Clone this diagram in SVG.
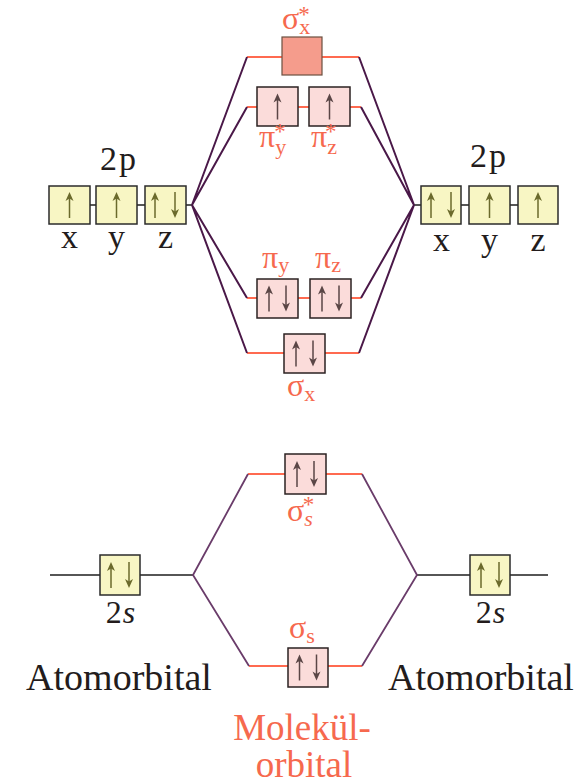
<svg xmlns="http://www.w3.org/2000/svg" width="584" height="784" viewBox="0 0 584 784">
  <style>
    .ao { fill: #f8f6c4; stroke: #2b2b2b; stroke-width: 1.5; }
    .mo { fill: #fbdcda; stroke: #2b2222; stroke-width: 1.5; }
    .mo-empty { fill: #f59c8c; stroke: #6b5040; stroke-width: 1.2; }
    .lvl { stroke: #ff6a50; stroke-width: 2; fill: none; }
    .ln { stroke: #1e1e1e; stroke-width: 1.6; fill: none; }
    .mix { stroke: #4a1848; stroke-width: 2; fill: none; }
    .mix2 { stroke: #6a3c6a; stroke-width: 1.8; fill: none; }
    .t { font-family: "Liberation Serif", "DejaVu Serif", serif; }
    .dark { fill: #231c1c; }
    .red { fill: #f6694e; }
    .spin-ao { fill: #6b6a2c; stroke: #6b6a2c; }
    .spin-mo { fill: #5a4646; stroke: #5a4646; }
    .big { font-size: 38px; text-anchor: middle; }
    .axis { font-size: 34px; text-anchor: middle; }
    .greek { font-size: 32px; }
    .sub { font-size: 22px; }
    .star { font-size: 23px; }
  </style>

  <defs>
    <!-- electron spin arrows, centred on the origin -->
    <g id="up">
      <line x1="0" y1="-7" x2="0" y2="13" stroke-width="1.5"/>
      <path d="M0,-13 L-4,-4 L0,-6.5 L4,-4 Z" stroke="none"/>
    </g>
    <g id="down">
      <line x1="0" y1="7" x2="0" y2="-13" stroke-width="1.5"/>
      <path d="M0,13 L-4,4 L0,6.5 L4,4 Z" stroke="none"/>
    </g>
  </defs>

  <!-- connectors: levels, correlation lines -->
  <g id="connectors">
    <!-- 2p atom levels -->
    <line class="ln" x1="49" y1="205" x2="192" y2="205"/>
    <line class="ln" x1="414" y1="205" x2="558" y2="205"/>
    <!-- 2s atom levels -->
    <line class="ln" x1="50" y1="575" x2="193" y2="575"/>
    <line class="ln" x1="417" y1="575" x2="548" y2="575"/>

    <!-- p molecular levels -->
    <line class="lvl" x1="247" y1="57" x2="359" y2="57"/>
    <line class="lvl" x1="247" y1="107" x2="361" y2="107"/>
    <line class="lvl" x1="247" y1="298" x2="361" y2="298"/>
    <line class="lvl" x1="247" y1="353" x2="359" y2="353"/>
    <!-- s molecular levels -->
    <line class="lvl" x1="248" y1="474" x2="362" y2="474"/>
    <line class="lvl" x1="249" y1="666" x2="362" y2="666"/>

    <!-- 2p correlation lines -->
    <polyline class="mix" points="247,57 192,205 247,107"/>
    <polyline class="mix" points="247,298 192,205 247,353"/>
    <polyline class="mix" points="359,57 414,205 361,107"/>
    <polyline class="mix" points="361,298 414,205 359,353"/>
    <!-- 2s correlation lines -->
    <polyline class="mix2" points="248,474 193,575 249,666"/>
    <polyline class="mix2" points="362,474 417,575 362,666"/>
  </g>

  <!-- left 2p atomic orbitals -->
  <g id="ao-2p-left">
    <text class="t dark" x="100" y="170" font-size="34" letter-spacing="2">2p</text>
    <rect class="ao" x="49" y="186" width="41" height="38"/>
    <rect class="ao" x="96" y="186" width="41" height="38"/>
    <rect class="ao" x="145" y="186" width="41" height="38"/>
    <g class="spin-ao">
      <use href="#up" x="69.5" y="205"/>
      <use href="#up" x="116.5" y="205"/>
      <use href="#up" x="155" y="205"/>
      <use href="#down" x="175" y="205"/>
    </g>
    <text class="t dark axis" x="69.5" y="248">x</text>
    <text class="t dark axis" x="116.5" y="248">y</text>
    <text class="t dark axis" x="165.5" y="248">z</text>
  </g>

  <!-- right 2p atomic orbitals -->
  <g id="ao-2p-right">
    <text class="t dark" x="470" y="167" font-size="34" letter-spacing="2">2p</text>
    <rect class="ao" x="421" y="186" width="40" height="38"/>
    <rect class="ao" x="469" y="186" width="41" height="38"/>
    <rect class="ao" x="518" y="186" width="40" height="38"/>
    <g class="spin-ao">
      <use href="#up" x="431" y="205"/>
      <use href="#down" x="451" y="205"/>
      <use href="#up" x="489.5" y="205"/>
      <use href="#up" x="538" y="205"/>
    </g>
    <text class="t dark axis" x="441.5" y="251">x</text>
    <text class="t dark axis" x="489.5" y="251">y</text>
    <text class="t dark axis" x="538" y="251">z</text>
  </g>

  <!-- sigma x antibonding (empty) -->
  <g id="mo-sigma-x-star">
    <rect class="mo-empty" x="282" y="37" width="40" height="38"/>
    <text class="t red"><tspan class="greek" x="282" y="29">σ</tspan><tspan class="sub" dy="5">x</tspan><tspan class="star" dx="-12" dy="-12">*</tspan></text>
  </g>

  <!-- pi antibonding pair -->
  <g id="mo-pi-star">
    <rect class="mo" x="257" y="87" width="41" height="39"/>
    <rect class="mo" x="309" y="87" width="41" height="39"/>
    <g class="spin-mo">
      <use href="#up" x="277.5" y="106.5"/>
      <use href="#up" x="329.5" y="106.5"/>
    </g>
    <text class="t red"><tspan class="greek" x="259" y="147">π</tspan><tspan class="sub" dy="7">y</tspan><tspan class="star" dx="-12" dy="-15">*</tspan></text>
    <text class="t red"><tspan class="greek" x="311" y="147">π</tspan><tspan class="sub" dy="7">z</tspan><tspan class="star" dx="-12" dy="-15">*</tspan></text>
  </g>

  <!-- pi bonding pair -->
  <g id="mo-pi">
    <text class="t red"><tspan class="greek" x="262" y="268">π</tspan><tspan class="sub" dy="4">y</tspan></text>
    <text class="t red"><tspan class="greek" x="315" y="268">π</tspan><tspan class="sub" dy="4">z</tspan></text>
    <rect class="mo" x="257" y="279" width="41" height="39"/>
    <rect class="mo" x="310" y="279" width="41" height="39"/>
    <g class="spin-mo">
      <use href="#up" x="269" y="298.5"/>
      <use href="#down" x="286" y="298.5"/>
      <use href="#up" x="322" y="298.5"/>
      <use href="#down" x="339" y="298.5"/>
    </g>
  </g>

  <!-- sigma x bonding -->
  <g id="mo-sigma-x">
    <rect class="mo" x="284" y="334" width="41" height="39"/>
    <g class="spin-mo">
      <use href="#up" x="296" y="353.5"/>
      <use href="#down" x="313" y="353.5"/>
    </g>
    <text class="t red"><tspan class="greek" x="287" y="396">σ</tspan><tspan class="sub" dy="5">x</tspan></text>
  </g>

  <!-- sigma s antibonding -->
  <g id="mo-sigma-s-star">
    <rect class="mo" x="285" y="454" width="41" height="40"/>
    <g class="spin-mo">
      <use href="#up" x="297" y="474"/>
      <use href="#down" x="314" y="474"/>
    </g>
    <text class="t red"><tspan class="greek" x="287" y="521">σ</tspan><tspan class="sub" dy="5" font-style="italic">s</tspan><tspan class="star" dx="-10" dy="-14">*</tspan></text>
  </g>

  <!-- sigma s bonding -->
  <g id="mo-sigma-s">
    <text class="t red"><tspan class="greek" x="289" y="638">σ</tspan><tspan class="sub" dy="5">s</tspan></text>
    <rect class="mo" x="288" y="648" width="40" height="39"/>
    <g class="spin-mo">
      <use href="#up" x="299.5" y="667.5"/>
      <use href="#down" x="316.5" y="667.5"/>
    </g>
  </g>

  <!-- left 2s -->
  <g id="ao-2s-left">
    <rect class="ao" x="100" y="555" width="40" height="40"/>
    <g class="spin-ao">
      <use href="#up" x="111" y="575"/>
      <use href="#down" x="129" y="575"/>
    </g>
    <text class="t dark" x="121" y="623" font-size="32" text-anchor="middle" letter-spacing="1">2<tspan font-style="italic">s</tspan></text>
  </g>

  <!-- right 2s -->
  <g id="ao-2s-right">
    <rect class="ao" x="470" y="555" width="40" height="40"/>
    <g class="spin-ao">
      <use href="#up" x="481" y="575"/>
      <use href="#down" x="499" y="575"/>
    </g>
    <text class="t dark" x="491" y="623" font-size="32" text-anchor="middle" letter-spacing="1">2<tspan font-style="italic">s</tspan></text>
  </g>

  <!-- captions -->
  <g id="captions">
    <text class="t dark big" x="119" y="690">Atomorbital</text>
    <text class="t dark big" x="481" y="690">Atomorbital</text>
    <text class="t red" x="302" y="740" font-size="37" text-anchor="middle">Molekül-</text>
    <text class="t red" x="304" y="777" font-size="37" text-anchor="middle">orbital</text>
  </g>
</svg>
